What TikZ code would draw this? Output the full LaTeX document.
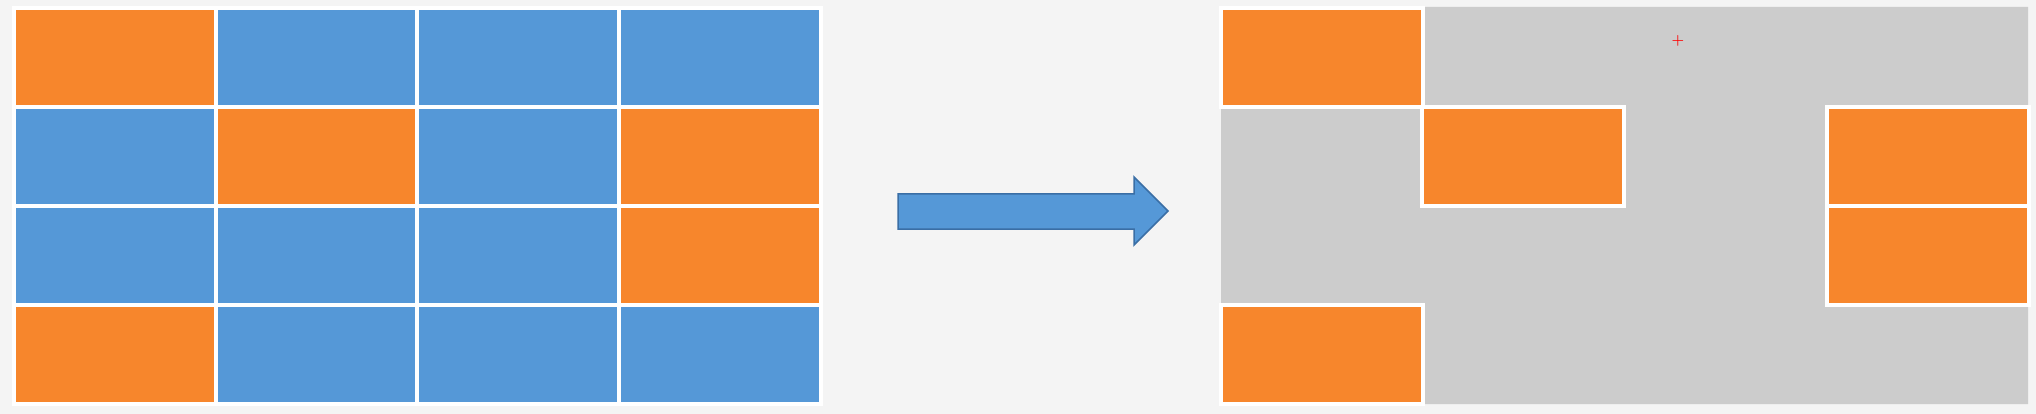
\documentclass[tikz,border=0pt]{standalone}
\usepackage{tikz}

\definecolor{cellorange}{HTML}{F7862C}
\definecolor{cellblue}{HTML}{5598D7}
\definecolor{cellgray}{HTML}{CCCCCC}
\definecolor{pagebg}{HTML}{F4F4F4}
\definecolor{arrowline}{HTML}{3A6EA5}

\begin{document}
\begin{tikzpicture}[x=1pt,y=-1pt,
                    cell/.style={rectangle,draw=white,line width=4pt,inner sep=0pt,
                                 minimum width=202pt,minimum height=99pt}]

  \useasboundingbox[fill=pagebg] (0,0) rectangle (2036,414);

  % left grid
  \foreach \r/\c/\f in {0/0/cellorange,0/1/cellblue,0/2/cellblue,0/3/cellblue,
                        1/0/cellblue,1/1/cellorange,1/2/cellblue,1/3/cellorange,
                        2/0/cellblue,2/1/cellblue,2/2/cellblue,2/3/cellorange,
                        3/0/cellorange,3/1/cellblue,3/2/cellblue,3/3/cellblue}
    \node[cell,fill=\f] (L\r\c) at (115+201.7*\c,57.5+99*\r) {};

  % arrow
  \draw[fill=cellblue,draw=arrowline,line width=1.5pt,line join=miter]
    (898,194) -- (1134,194) -- (1134,177) -- (1168,211) -- (1134,245)
    -- (1134,229) -- (898,229) -- cycle;

  % right grid
  \fill[cellgray] (1423,7) -- (2028,7) -- (2028,404) -- (1423,404) -- (1423,305)
    -- (1221,305) -- (1221,106) -- (1423,106) -- cycle;

  \node[cell,fill=cellorange] (R00) at (1322,57.5) {};
  \node[cell,fill=cellorange] (R11) at (1523,156.5) {};
  \node[cell,fill=cellorange] (R13) at (1928,156.5) {};
  \node[cell,fill=cellorange] (R23) at (1928,255.5) {};
  \node[cell,fill=cellorange] (R30) at (1322,354.5) {};

  \node[text=red,font=\Large\bfseries] (cursor) at (1678,41) {+};
\end{tikzpicture}
\end{document}
